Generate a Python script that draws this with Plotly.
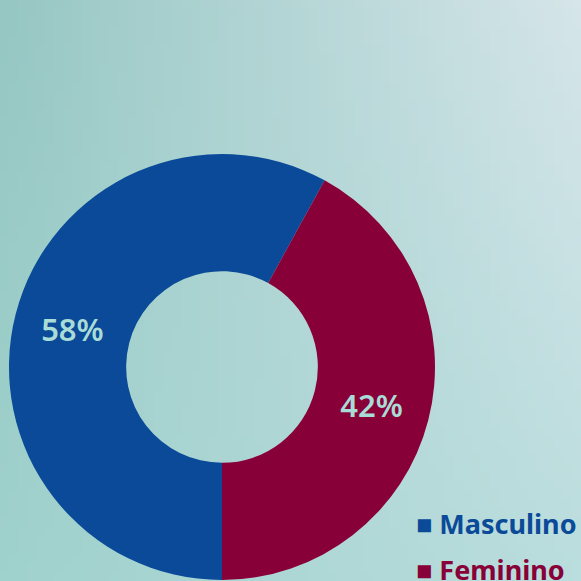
import numpy as np
import plotly.graph_objects as go

# 数据
categorias = ["Masculino", "Feminino"]
valores = [58, 42]
cores = ["#0a4a98", "#880038"]

W, H = 581, 581

# 背景渐变 (四角颜色)
tl = np.array([150, 199, 195])
tr = np.array([213, 229, 233])
bl = np.array([160, 210, 205])
br = np.array([186, 221, 221])
n = 64
u = np.linspace(0, 1, n)[None, :, None]
v = np.linspace(0, 1, n)[:, None, None]
bg = (1 - v) * ((1 - u) * tl + u * tr) + v * ((1 - u) * bl + u * br)
bg = bg.astype(np.uint8)

fig = go.Figure()

fig.add_trace(go.Image(z=bg, zsmooth="fast", hoverinfo="skip"))

fig.add_trace(go.Pie(
    labels=categorias,
    values=valores,
    hole=0.45,
    sort=False,
    direction="clockwise",
    rotation=180,
    marker=dict(colors=cores, line=dict(width=0)),
    textinfo="percent",
    textposition="inside",
    insidetextorientation="horizontal",
    textfont=dict(family="Noto Sans", size=31, color="#a9dcd6", weight=600),
    domain=dict(x=[9 / W, 435 / W], y=[1 - 580 / H, 1 - 154 / H]),
    showlegend=False,
))

# 图例 (手动)
for cat, cor, y in zip(categorias, cores, [0.099, 0.02]):
    fig.add_annotation(
        x=414 / W, y=y, xref="paper", yref="paper",
        xanchor="left", yanchor="middle", showarrow=False,
        text=f"<b>■ {cat}</b>",
        font=dict(family="Noto Sans", size=27, color=cor),
    )

fig.update_layout(
    width=W, height=H,
    margin=dict(l=0, r=0, t=0, b=0),
    paper_bgcolor="#b8d8d8",
    plot_bgcolor="#b8d8d8",
    xaxis=dict(visible=False, range=[-0.5, n - 0.5], domain=[0, 1], fixedrange=True),
    yaxis=dict(visible=False, range=[n - 0.5, -0.5], domain=[0, 1], fixedrange=True),
)

fig.write_html("out.html", config={"displayModeBar": False},
               post_script="document.body.style.margin='0';")
